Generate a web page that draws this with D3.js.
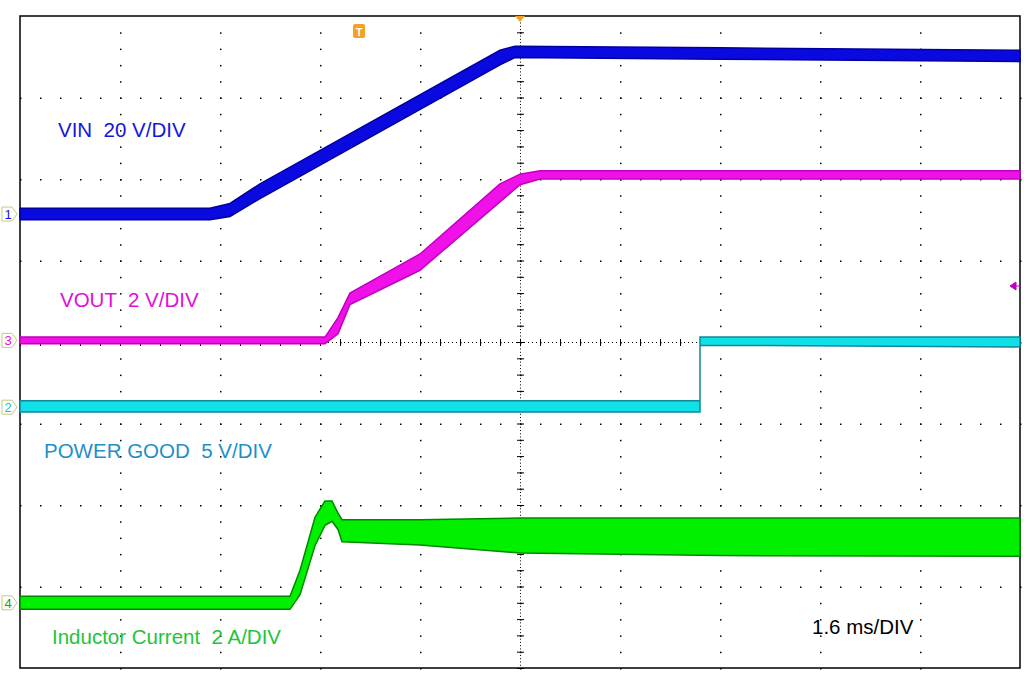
<!DOCTYPE html>
<html><head><meta charset="utf-8">
<script src="https://cdn.jsdelivr.net/npm/d3@7"></script>
<style>body{margin:0;background:#fff}text{font-family:"Liberation Sans",Arial,sans-serif;white-space:pre}</style>
</head><body><svg id="scope" width="1024" height="677"></svg>
<script>
// Traces in screen divisions: t = horizontal division (0..10), lo/hi = vertical division (-4..4)
const vinT  = [0, 1.9, 2.1, 2.4, 4.8, 4.95, 7, 10];
const vinLo = [1.50, 1.50, 1.54, 1.76, 3.40, 3.49, 3.47, 3.44];
const vinHi = [1.64, 1.64, 1.70, 1.94, 3.58, 3.63, 3.61, 3.58];
const voutT  = [0, 3.05, 3.18, 3.3, 4, 4.8, 5.0, 5.2, 7, 10];
const voutLo = [-0.02, -0.02, 0.1, 0.46, 0.88, 1.72, 1.93, 2.0, 2.0, 2.0];
const voutHi = [0.06, 0.06, 0.3, 0.6, 1.08, 1.94, 2.06, 2.1, 2.1, 2.1];
const pgT  = [0, 6.8, 6.8, 10];
const pgLo = [-0.86, -0.86, -0.04, -0.06];
const pgHi = [-0.72, -0.72, 0.06, 0.06];
const ilT  = [0, 2.7, 2.8, 2.95, 3.05, 3.12, 3.18, 3.22, 4, 5, 7, 10];
const ilLo = [-3.28, -3.28, -3.1, -2.5, -2.25, -2.2, -2.3, -2.45, -2.49, -2.59, -2.62, -2.63];
const ilHi = [-3.12, -3.12, -2.8, -2.15, -1.95, -1.95, -2.1, -2.18, -2.18, -2.16, -2.16, -2.16];
const labels = [
  {text: "VIN  20 V/DIV", x: 0.38, y: 2.52, color: "#1515e0"},
  {text: "VOUT  2 V/DIV", x: 0.4, y: 0.43, color: "#e010d8"},
  {text: "POWER GOOD  5 V/DIV", x: 0.24, y: -1.42, color: "#1f8fc8"},
  {text: "Inductor Current  2 A/DIV", x: 0.32, y: -3.71, color: "#22c43a"},
  {text: "1.6 ms/DIV", x: 7.92, y: -3.58, color: "#000"}
];
const markers = [
  {ch: "1", y: 1.57, color: "#1515e0"},
  {ch: "3", y: 0.02, color: "#e010d8"},
  {ch: "2", y: -0.8, color: "#10c8d8"},
  {ch: "4", y: -3.2, color: "#18a818"}
];

const svg = d3.select("#scope");
const x = d3.scaleLinear().domain([0, 10]).range([20, 1020]);
const y = d3.scaleLinear().domain([-4, 4]).range([668, 16]);

// grid dots
const g = svg.append("g").attr("fill", "#000");
for (let i = 1; i < 10; i++) {
  for (let v = -4; v <= 4; v += 0.2) g.append("rect").attr("x", x(i)).attr("y", y(v)).attr("width", 1.5).attr("height", 1.5);
}
for (let j = -3; j <= 3; j++) {
  for (let t = 0; t <= 10; t += 0.2) g.append("rect").attr("x", x(t)).attr("y", y(j)).attr("width", 1.5).attr("height", 1.5);
}
// centre crosshair (denser)
for (let t = 0; t <= 10; t += 0.04) g.append("rect").attr("x", x(t)).attr("y", y(0)).attr("width", 1).attr("height", 1);
for (let v = -4; v <= 4; v += 0.04) g.append("rect").attr("x", x(5)).attr("y", y(v)).attr("width", 1).attr("height", 1);
for (let v = -4; v <= 4; v += 0.2) g.append("rect").attr("x", x(5) - 3).attr("y", y(v)).attr("width", 7).attr("height", 1);
for (let t = 0; t <= 10; t += 0.2) g.append("rect").attr("x", x(t)).attr("y", y(0) - 3).attr("width", 1).attr("height", 7);

svg.append("rect").attr("x", x(0)).attr("y", y(4)).attr("width", x(10) - x(0)).attr("height", y(-4) - y(4))
  .attr("fill", "none").attr("stroke", "#000").attr("stroke-width", 1.5);

const area = d3.area().x(d => x(d.t)).y0(d => y(d.lo)).y1(d => y(d.hi));
function band(T, lo, hi, fill, edge) {
  const d = T.map((t, i) => ({t, lo: lo[i], hi: hi[i]}));
  svg.append("path").datum(d).attr("d", area).attr("fill", fill).attr("stroke", edge).attr("stroke-width", 1.5);
}
band(vinT, vinLo, vinHi, "#0a0ae0", "#0000a0");
band(voutT, voutLo, voutHi, "#f010e8", "#c000c0");
band(pgT, pgLo, pgHi, "#10e0e8", "#108898");
band(ilT, ilLo, ilHi, "#00f000", "#008800");

labels.forEach(l => svg.append("text").attr("x", x(l.x)).attr("y", y(l.y)).attr("font-size", 20.5)
  .attr("fill", l.color).text(l.text));

markers.forEach(m => {
  const yy = y(m.y);
  svg.append("path").attr("d", `M2,${yy-7}H12L17,${yy}L12,${yy+7}H2Z`).attr("fill", "#fff").attr("stroke", "#c8c880");
  svg.append("text").attr("x", 8).attr("y", yy + 5).attr("font-size", 13).attr("text-anchor", "middle").attr("fill", m.color).text(m.ch);
});

// trigger markers
svg.append("rect").attr("x", 353).attr("y", 24).attr("width", 12).attr("height", 14).attr("rx", 2).attr("fill", "#f5a020");
svg.append("text").attr("x", 359).attr("y", 36).attr("font-size", 11).attr("font-weight", "bold").attr("text-anchor", "middle").attr("fill", "#fff").text("T");
svg.append("path").attr("d", `M${x(5)-5},16L${x(5)+5},16L${x(5)},22Z`).attr("fill", "#f5a020");
svg.append("path").attr("d", "M1010,286L1016,282V290Z M1016,286H1021").attr("fill", "#c000c0").attr("stroke", "#c000c0");
</script></body></html>
